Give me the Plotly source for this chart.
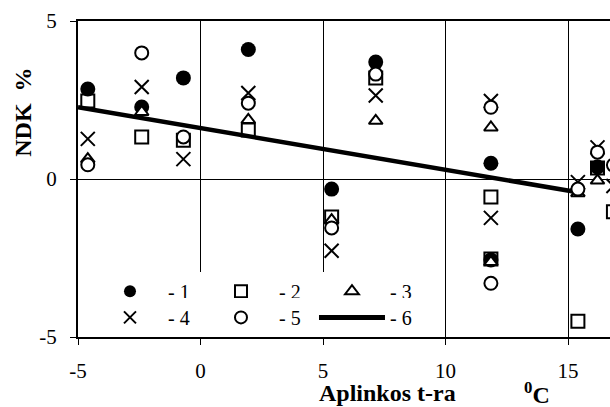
import plotly.graph_objects as go

# ---- data ----
s1_x = [-4.6, -2.4, -0.7, 1.95, 5.35, 7.15, 11.85, 11.85, 15.4, 16.2]
s1_y = [2.85, 2.28, 3.2, 4.1, -0.32, 3.7, 0.5, -2.56, -1.58, 0.38]

s2_x = [-4.6, -2.4, -0.7, 1.95, 5.35, 7.15, 11.85, 11.85, 15.4, 16.2, 16.85]
s2_y = [2.47, 1.33, 1.23, 1.55, -1.2, 3.2, -0.57, -2.53, -4.5, 0.35, -1.04]

s3_x = [-4.6, -2.4, 1.95, 5.35, 7.15, 11.85, 11.85, 15.4, 16.2]
s3_y = [0.63, 2.12, 1.87, -1.3, 1.84, 1.63, -2.63, -0.45, -0.05]

s4_x = [-4.6, -2.4, -0.7, 1.95, 5.35, 7.15, 11.85, 11.85, 15.4, 16.2, 16.85]
s4_y = [1.27, 2.91, 0.63, 2.72, -2.27, 2.64, 2.47, -1.23, -0.1, 1.0, -0.22]

s5_x = [-4.6, -2.4, -0.7, 1.95, 5.35, 7.15, 11.85, 11.85, 15.4, 16.2, 16.85]
s5_y = [0.45, 3.99, 1.33, 2.4, -1.55, 3.32, 2.27, -3.3, -0.32, 0.85, 0.44]

trend_x = [-5, 15.4]
trend_y = [2.27, -0.42]

names = ["- 1", "- 2", "- 3", "- 4", "- 5", "- 6"]
x_ticks = [-5, 0, 5, 10, 15]
y_ticks = [-5, 0, 5]

FONT = "Liberation Serif"

fig = go.Figure()

# regression line (drawn first so markers sit on top)
fig.add_trace(go.Scatter(x=trend_x, y=trend_y, mode="lines", name=names[5],
                         line=dict(color="black", width=4.5), legend="legend2", legendrank=3))

fig.add_trace(go.Scatter(x=s1_x, y=s1_y, mode="markers", name=names[0],
                         marker=dict(symbol="circle", size=15, color="black"),
                         legend="legend", legendrank=1))
fig.add_trace(go.Scatter(x=s2_x, y=s2_y, mode="markers", name=names[1],
                         marker=dict(symbol="square-open", size=13, color="black",
                                     line=dict(color="black", width=2)),
                         legend="legend", legendrank=2))
fig.add_trace(go.Scatter(x=s3_x, y=s3_y, mode="markers", name=names[2],
                         marker=dict(symbol="triangle-up", size=12, color="white",
                                     line=dict(color="black", width=2)),
                         legend="legend", legendrank=3))
fig.add_trace(go.Scatter(x=s4_x, y=s4_y, mode="markers", name=names[3],
                         marker=dict(symbol="x-thin", size=14, color="black",
                                     line=dict(color="black", width=2)),
                         legend="legend2", legendrank=1))
fig.add_trace(go.Scatter(x=s5_x, y=s5_y, mode="markers", name=names[4],
                         marker=dict(symbol="circle", size=13, color="white",
                                     line=dict(color="black", width=2)),
                         legend="legend2", legendrank=2))

leg_common = dict(orientation="h", xref="paper", yref="paper", xanchor="left", yanchor="middle",
                  bgcolor="white", borderwidth=0, itemwidth=66, entrywidth=30,
                  entrywidthmode="pixels", itemsizing="constant",
                  font=dict(family=FONT, size=20, color="black"), tracegroupgap=0)

fig.update_layout(
    width=610, height=407,
    margin=dict(l=78, r=0, t=21, b=70),
    paper_bgcolor="white", plot_bgcolor="white",
    font=dict(family=FONT, size=21, color="black"),
    showlegend=True,
    legend=dict(x=0.0263, y=0.145, **leg_common),
    legend2=dict(x=0.0263, y=0.062, **leg_common),
    xaxis=dict(range=[-5, 16.71], tickvals=x_ticks, ticktext=[str(v) for v in x_ticks],
               showgrid=True, gridcolor="black", gridwidth=1, zeroline=False,
               showline=True, linecolor="black", linewidth=2, mirror=True,
               ticks="outside", ticklen=6, tickcolor="black", ticklabelstandoff=8,
               tickfont=dict(family=FONT, size=21, color="black")),
    yaxis=dict(range=[-5, 5], tickvals=y_ticks, ticktext=[str(v) for v in y_ticks],
               showgrid=True, gridcolor="black", gridwidth=1, zeroline=False,
               showline=True, linecolor="black", linewidth=2, mirror=False,
               ticks="outside", ticklen=6, tickcolor="black", ticklabelstandoff=9,
               tickfont=dict(family=FONT, size=21, color="black")),
    annotations=[
        dict(text="<b>Aplinkos t-ra</b>", xref="paper", yref="paper", x=0.581, y=-0.176,
             xanchor="center", yanchor="middle", showarrow=False,
             font=dict(family=FONT, size=24, color="black")),
        dict(text="<b><sup>0</sup>C</b>", xref="paper", yref="paper", x=0.862, y=-0.176,
             xanchor="center", yanchor="middle", showarrow=False,
             font=dict(family=FONT, size=24, color="black")),
        dict(text="<b>NDK&nbsp;&nbsp;%</b>", xref="paper", yref="paper", x=-0.105, y=0.71,
             xanchor="center", yanchor="middle", showarrow=False, textangle=-90,
             font=dict(family=FONT, size=24, color="black")),
    ],
)

fig.write_html("out.html", config={"displayModeBar": False},
               post_script="document.body.style.margin='0px';")
